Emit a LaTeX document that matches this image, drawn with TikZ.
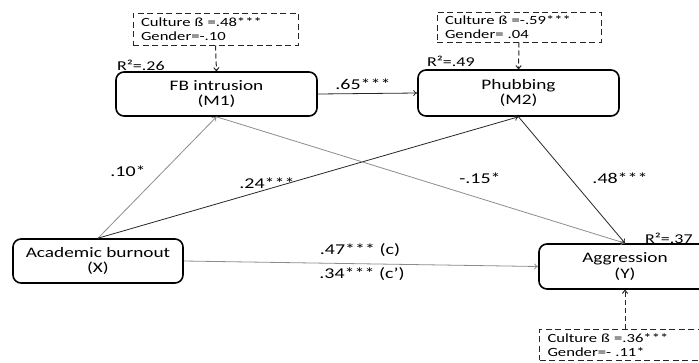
\documentclass[tikz,border=0pt]{standalone}
\usepackage{fontspec}
\setmainfont{Carlito}[FakeStretch=1.33]
\usetikzlibrary{arrows.meta}
\begin{document}
\begin{tikzpicture}[x=1pt,y=-1pt,
  var/.style={draw=black,line width=1.6pt,rounded corners=8pt,align=center,
    font=\fontsize{14.5}{15.5}\selectfont,inner sep=0pt},
  ctrl/.style={draw=black!85,dash pattern=on 6pt off 3.5pt,line width=1pt,align=left,
    font=\fontsize{12.5}{14}\selectfont,inner ysep=0pt,inner xsep=8pt},
  lab/.style={font=\fontsize{15}{16}\selectfont,inner sep=0pt},
  rlab/.style={font=\fontsize{13.5}{14}\selectfont,inner sep=0pt,anchor=south west},
  blk/.style={draw=black!85,line width=0.8pt,-{To[length=4pt,width=6pt]}},
  gry/.style={draw=black!45,line width=0.8pt,-{To[length=4pt,width=6pt]}},
  dsh/.style={draw=black!85,dash pattern=on 5pt off 3pt,line width=1pt,-{To[length=4pt,width=6pt]}}]
\clip (0,0) rectangle (699,362);
% main variables
\node[var,minimum width=201pt,minimum height=44pt] (M1) at (216.5,94) {FB intrusion\\(M1)};
\node[var,minimum width=201pt,minimum height=46pt] (M2) at (518.5,93) {Phubbing\\(M2)};
\node[var,minimum width=170pt,minimum height=44pt] (X) at (98,261) {Academic burnout\\(X)};
\node[var,minimum width=172pt,minimum height=45pt] (Y) at (625,266.5) {Aggression\\(Y)};
% control boxes
\node[ctrl,minimum width=165pt,minimum height=32pt,text width=149pt] (C1) at (215.5,29) {Culture ß =.48***\\Gender=-.10};
\node[ctrl,minimum width=164pt,minimum height=30pt,text width=148pt] (C2) at (519,27) {Culture ß =-.59***\\Gender= .04};
\node[ctrl,text width=160pt,inner ysep=4pt,anchor=north west] (C3) at (539,329) {Culture ß =.36***\\Gender=- .11*};
% R squared
\node[rlab] (R1) at (117,71) {R²=.26};
\node[rlab] (R2) at (427,67) {R²=.49};
\node[rlab] (R3) at (645,244) {R²=.37};
% connectors
\draw[dsh] (C1.south) -- (M1.north);
\draw[dsh] (C2.south) -- (M2.north);
\draw[dsh] (C3.north -| Y.north) -- (Y.south);
\draw[blk] (M1.east) -- (M2.west);
\draw[gry] (X.north) -- (M1.south);
\draw[blk] (X.north) -- (M2.south);
\draw[gry] (M1.south) -- (Y.north);
\draw[blk] (M2.south) -- (Y.north);
\draw[gry] (X.east) -- (Y.west);
% path labels
\node[lab] (L65) at (363,84) {.65***};
\node[lab] (L10) at (128,171) {.10*};
\node[lab] (L24) at (267,183) {.24***};
\node[lab] (L15) at (480,178) {-.15*};
\node[lab] (L48) at (620,178) {.48***};
\node[lab] (Lc) at (360,250) {.47*** (c)};
\node[lab] (Lcp) at (362,274) {.34*** (c’)};
\end{tikzpicture}
\end{document}
